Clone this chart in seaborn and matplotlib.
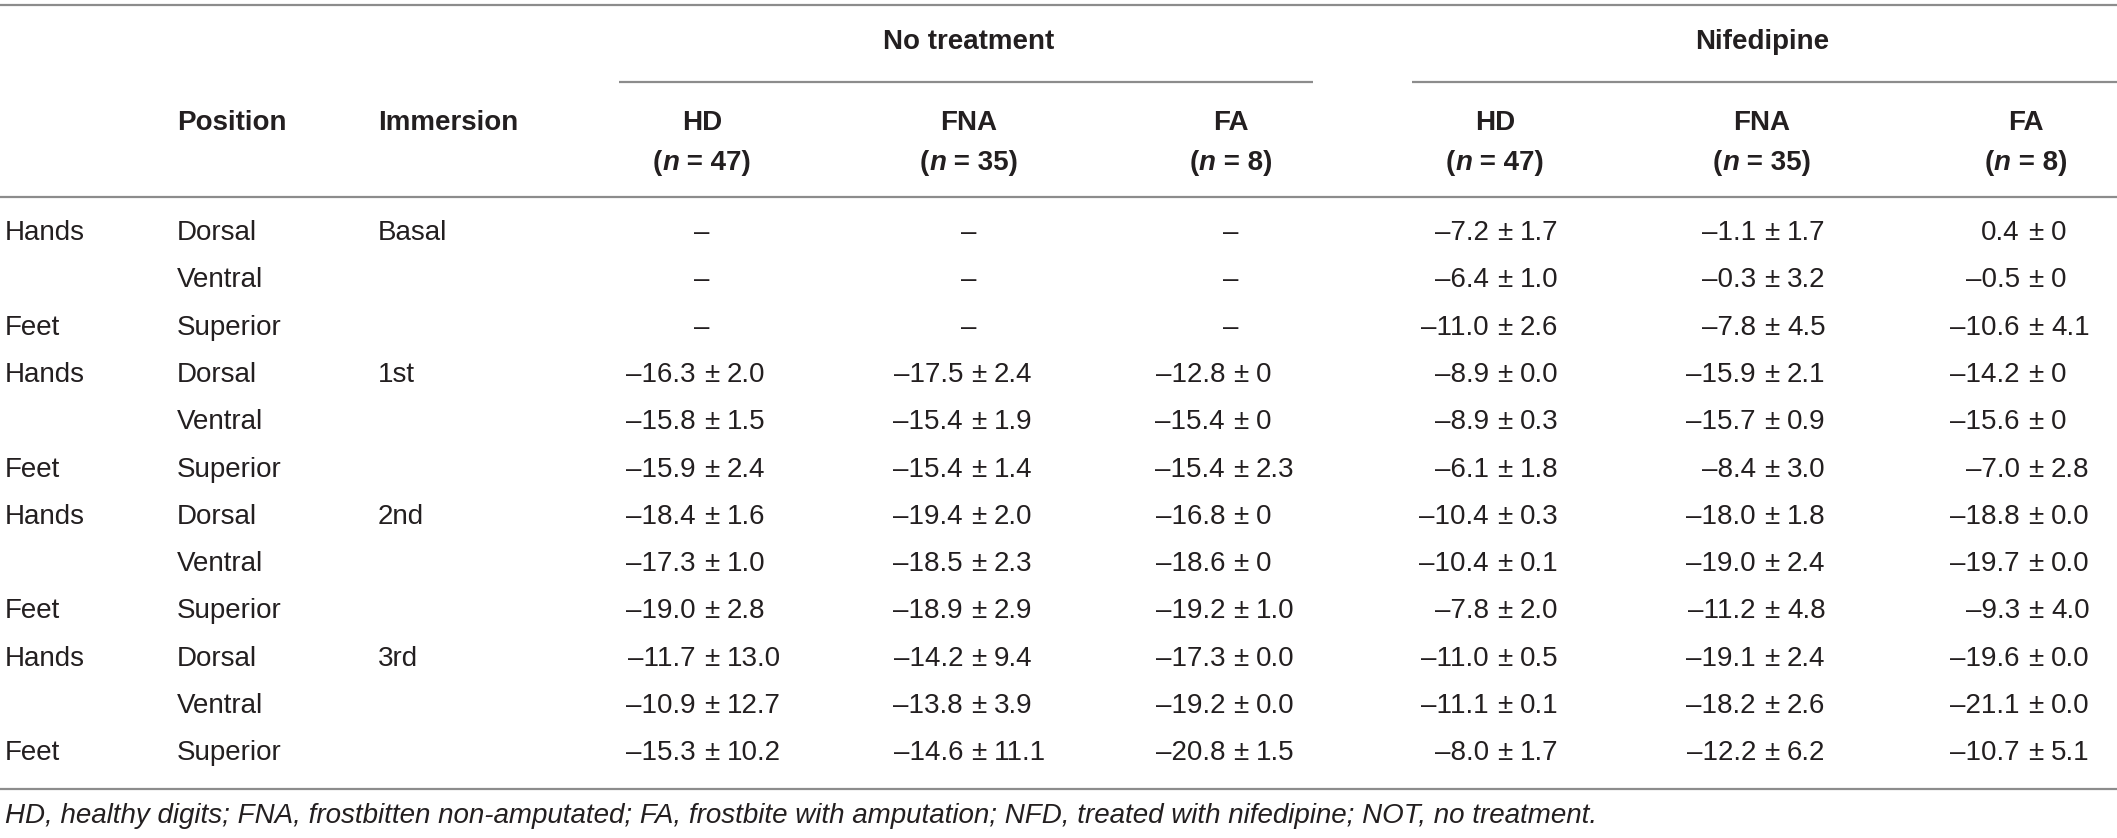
import numpy as np
import matplotlib
matplotlib.use("Agg")
import matplotlib.pyplot as plt
import seaborn as sns

# table content
positions = ["Hands", "", "Feet"] * 4
sides = ["Dorsal", "Ventral", "Superior"] * 4
immersions = ["Basal", "", "", "1st", "", "", "2nd", "", "", "3rd", "", ""]

groups = ["No treatment", "Nifedipine"]
col_names = ["HD", "FNA", "FA", "HD", "FNA", "FA"]
col_n = ["47", "35", "8", "47", "35", "8"]

# means (None = no measurement) and SDs kept as printed
nt_hd_mean = [None, None, None, -16.3, -15.8, -15.9, -18.4, -17.3, -19.0, -11.7, -10.9, -15.3]
nt_hd_sd = [None, None, None, "2.0", "1.5", "2.4", "1.6", "1.0", "2.8", "13.0", "12.7", "10.2"]
nt_fna_mean = [None, None, None, -17.5, -15.4, -15.4, -19.4, -18.5, -18.9, -14.2, -13.8, -14.6]
nt_fna_sd = [None, None, None, "2.4", "1.9", "1.4", "2.0", "2.3", "2.9", "9.4", "3.9", "11.1"]
nt_fa_mean = [None, None, None, -12.8, -15.4, -15.4, -16.8, -18.6, -19.2, -17.3, -19.2, -20.8]
nt_fa_sd = [None, None, None, "0", "0", "2.3", "0", "0", "1.0", "0.0", "0.0", "1.5"]
nf_hd_mean = [-7.2, -6.4, -11.0, -8.9, -8.9, -6.1, -10.4, -10.4, -7.8, -11.0, -11.1, -8.0]
nf_hd_sd = ["1.7", "1.0", "2.6", "0.0", "0.3", "1.8", "0.3", "0.1", "2.0", "0.5", "0.1", "1.7"]
nf_fna_mean = [-1.1, -0.3, -7.8, -15.9, -15.7, -8.4, -18.0, -19.0, -11.2, -19.1, -18.2, -12.2]
nf_fna_sd = ["1.7", "3.2", "4.5", "2.1", "0.9", "3.0", "1.8", "2.4", "4.8", "2.4", "2.6", "6.2"]
nf_fa_mean = [0.4, -0.5, -10.6, -14.2, -15.6, -7.0, -18.8, -19.7, -9.3, -19.6, -21.1, -10.7]
nf_fa_sd = ["0", "0", "4.1", "0", "0", "2.8", "0.0", "0.0", "4.0", "0.0", "0.0", "5.1"]

footnote = ("HD, healthy digits; FNA, frostbitten non-amputated; FA, frostbite with amputation; "
            "NFD, treated with nifedipine; NOT, no treatment.")

means = [nt_hd_mean, nt_fna_mean, nt_fa_mean, nf_hd_mean, nf_fna_mean, nf_fa_mean]
sds = [nt_hd_sd, nt_fna_sd, nt_fa_sd, nf_hd_sd, nf_fna_sd, nf_fa_sd]

# style
sns.set_theme(style="white")
plt.rcParams["font.family"] = ["Liberation Sans", "DejaVu Sans"]
txt_color = "#231f20"
line_color = "#8c8c8c"
fs = 20

W, H = 2117, 838
fig = plt.figure(figsize=(W / 100, H / 100), dpi=100)
ax = fig.add_axes([0, 0, 1, 1])
ax.set_xlim(0, W)
ax.set_ylim(H, 0)
ax.axis("off")

# layout (pixels)
col_x = [702, 969, 1231, 1495, 1762, 2026]
x_pos, x_side, x_imm = 5, 177, 378
row_y0, row_dy = 233, 47.3
pm_shift = 10

# rules
ax.hlines([5, 197, 789], 0, W, color=line_color, lw=1.6)
ax.hlines(82, 619, 1313, color=line_color, lw=1.6)
ax.hlines(82, 1412, W, color=line_color, lw=1.6)

# spanners
ax.text(col_x[1], 42, groups[0], ha="center", va="center", fontsize=fs,
        fontweight="bold", color=txt_color)
ax.text(col_x[4], 42, groups[1], ha="center", va="center", fontsize=fs,
        fontweight="bold", color=txt_color)

# column headers
ax.text(x_side, 123, "Position", ha="left", va="center", fontsize=fs,
        fontweight="bold", color=txt_color)
ax.text(x_imm, 123, "Immersion", ha="left", va="center", fontsize=fs,
        fontweight="bold", color=txt_color)

renderer = fig.canvas.get_renderer()
for x, name, n in zip(col_x, col_names, col_n):
    ax.text(x, 123, name, ha="center", va="center", fontsize=fs,
            fontweight="bold", color=txt_color)
    parts = [("(", "normal"), ("n", "italic"), (" = " + n + ")", "normal")]
    objs = [ax.text(0, 163, p, ha="left", va="center", fontsize=fs, fontweight="bold",
                    style=st, color=txt_color) for p, st in parts]
    widths = [o.get_window_extent(renderer).width for o in objs]
    start = x - sum(widths) / 2
    for o, w in zip(objs, widths):
        o.set_x(start)
        start += w

# body rows
for i in range(len(sides)):
    y = row_y0 + i * row_dy
    ax.text(x_pos, y, positions[i], ha="left", va="center", fontsize=fs, color=txt_color)
    ax.text(x_side, y, sides[i], ha="left", va="center", fontsize=fs, color=txt_color)
    ax.text(x_imm, y, immersions[i], ha="left", va="center", fontsize=fs, color=txt_color)
    for x, m, s in zip(col_x, means, sds):
        if m[i] is None:
            ax.text(x, y, "\u2013", ha="center", va="center", fontsize=fs, color=txt_color)
            continue
        xp = x + pm_shift
        ax.text(xp - 16, y, f"{m[i]:.1f}".replace("-", "\u2013"), ha="right", va="center",
                fontsize=fs, color=txt_color)
        ax.text(xp, y, "\u00b1", ha="center", va="center", fontsize=fs, color=txt_color)
        ax.text(xp + 15, y, s[i], ha="left", va="center", fontsize=fs, color=txt_color)

# footnote
ax.text(x_pos, 816, footnote, ha="left", va="center", fontsize=fs, style="italic",
        color=txt_color)

fig.savefig("out.png", dpi=100)
